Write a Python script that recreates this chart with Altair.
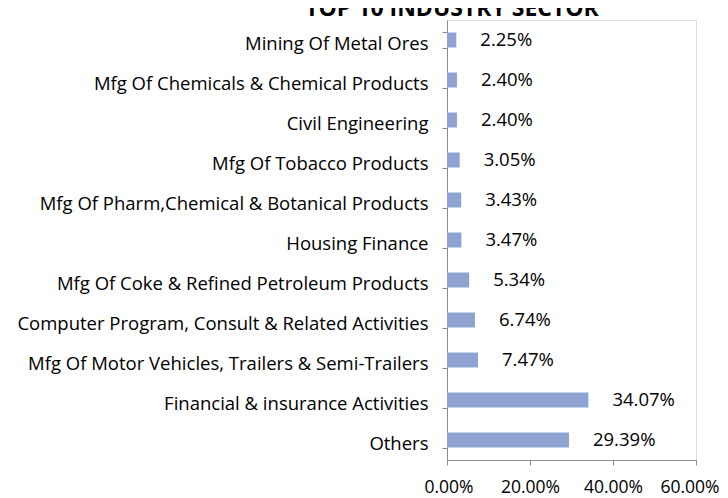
import altair as alt
import pandas as pd

categories = [
    "Mining Of Metal Ores",
    "Mfg Of Chemicals & Chemical Products",
    "Civil Engineering",
    "Mfg Of Tobacco Products",
    "Mfg Of Pharm,Chemical & Botanical Products",
    "Housing Finance",
    "Mfg Of Coke & Refined Petroleum Products",
    "Computer Program, Consult & Related Activities",
    "Mfg Of Motor Vehicles, Trailers & Semi-Trailers",
    "Financial & insurance Activities",
    "Others",
]
values = [2.25, 2.40, 2.40, 3.05, 3.43, 3.47, 5.34, 6.74, 7.47, 34.07, 29.39]
x_ticks = [0, 20, 40, 60]
title_text = "TOP 10 INDUSTRY SECTOR"

df = pd.DataFrame({"sector": categories, "share": values})
df["label"] = [f"{v:.2f}%" for v in values]

FONT = "Open Sans"

y_enc = alt.Y(
    "sector:N",
    sort=categories,
    title=None,
    scale=alt.Scale(paddingInner=0.62, paddingOuter=0.31),
    axis=alt.Axis(
        labelFont=FONT, labelFontSize=18.5, labelColor="#000000",
        labelPadding=14, tickBand="extent", tickSize=5,
        domainColor="#8c8c8c", tickColor="#8c8c8c", grid=False,
        labelLimit=500, labelBaseline="middle", labelOffset=3,
    ),
)
x_enc = alt.X(
    "share:Q",
    title=None,
    scale=alt.Scale(domain=[0, 60], nice=False),
    axis=alt.Axis(
        values=x_ticks, labelExpr="format(datum.value, '.2f') + '%'",
        labelFont=FONT, labelFontSize=17.5, labelColor="#000000",
        labelPadding=13, tickSize=5, grid=False,
        labelFlush=True, labelFlushOffset=23,
        labelOverlap=False,
        domainColor="#8c8c8c", tickColor="#8c8c8c",
    ),
)

bars = alt.Chart(df).mark_bar(color="#8fa3d3", size=15).encode(x=x_enc, y=y_enc)

labels = alt.Chart(df).mark_text(
    align="left", baseline="middle", dx=24, dy=0,
    font=FONT, fontSize=18.5, color="#000000",
).encode(x=alt.X("share:Q"), y=alt.Y("sector:N", sort=categories), text="label:N")

title = alt.Chart(pd.DataFrame({"t": [title_text]})).mark_text(
    align="center", baseline="alphabetic", font=FONT, fontSize=23,
    fontWeight="bold", color="#000000",
).encode(x=alt.value(5), y=alt.value(-4), text="t:N")

chart = alt.layer(bars, labels, title).properties(
    width=249, height=440,
    autosize=alt.AutoSizeParams(type="none"),
    padding={"left": 439, "top": 12, "right": 24, "bottom": 40},
).configure_view(stroke=None).configure(background="#ffffff")

chart.save("out.html", embed_options={"renderer": "svg", "actions": False})
